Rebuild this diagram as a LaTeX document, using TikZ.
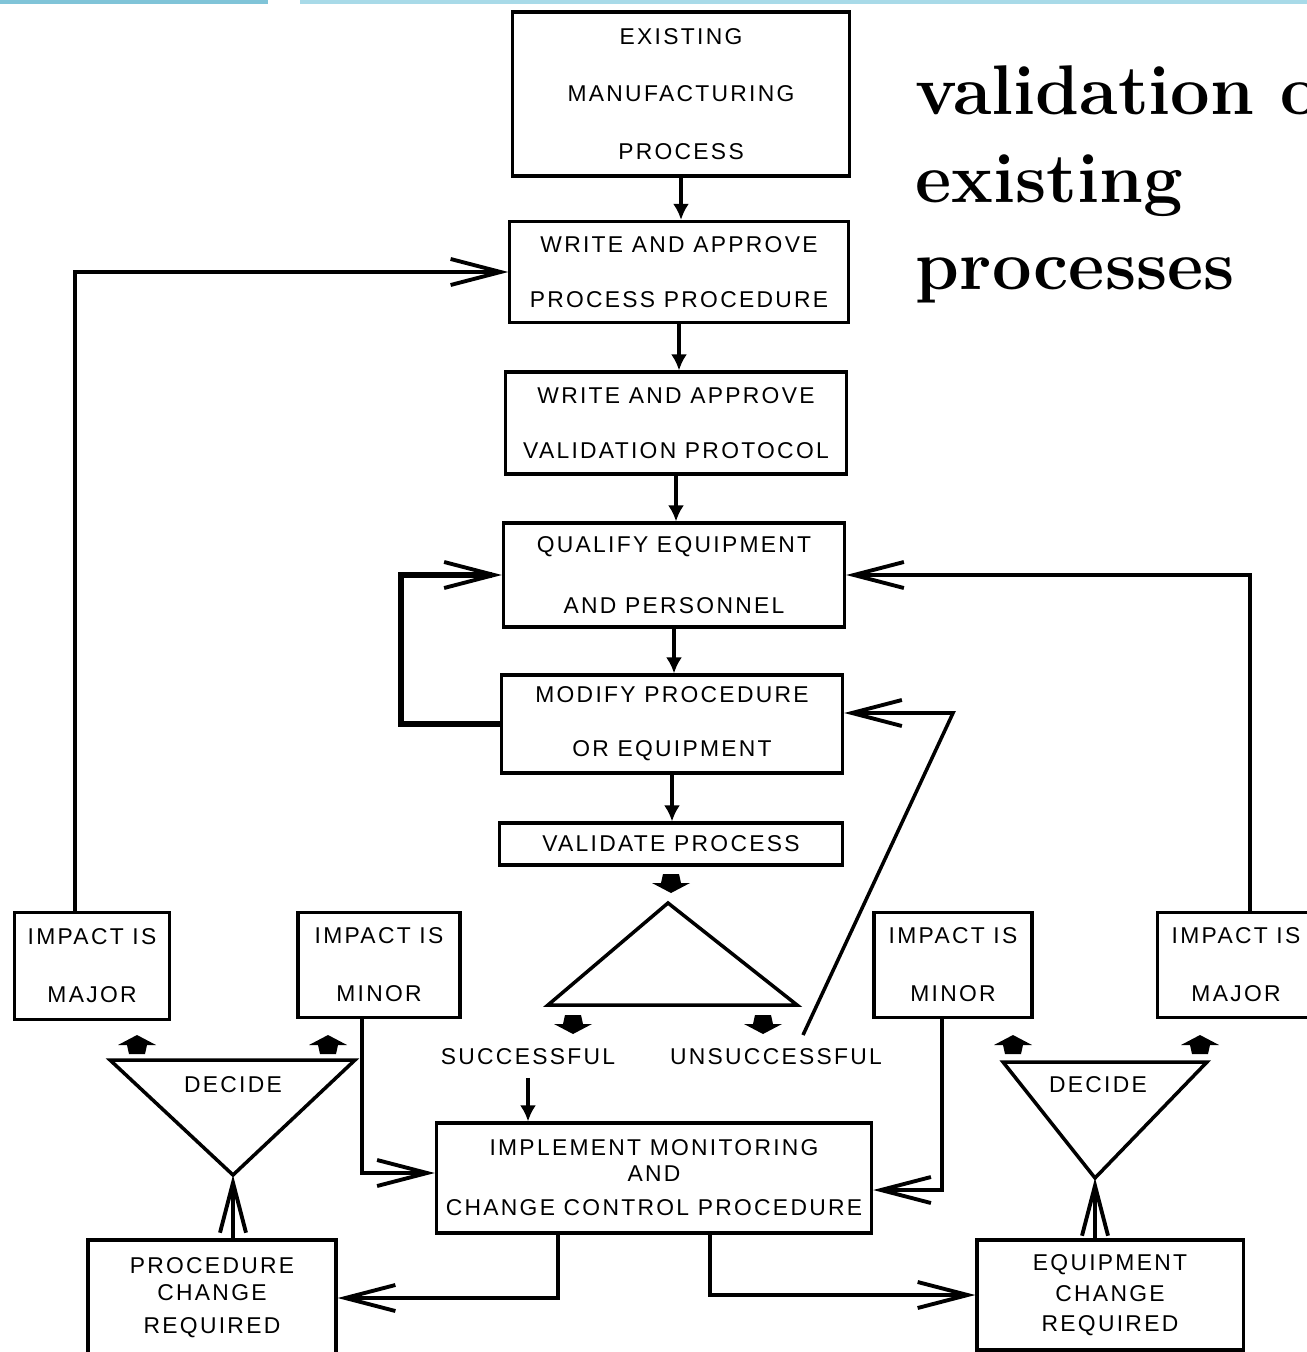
\documentclass[tikz,border=0pt]{standalone}
\usepackage{fontspec}
\usetikzlibrary{arrows.meta}
\newfontfamily\boxfont[LetterSpace=10]{Liberation Sans}
\definecolor{bandleft}{RGB}{128,196,216}
\definecolor{bandright}{RGB}{168,218,232}

\begin{document}
\begin{tikzpicture}[x=0.01cm, y=-0.01cm,
  box/.style={draw, line width=0.9pt, inner sep=0pt, align=center,
    font=\boxfont\fontsize{6.5}{7.8}\selectfont},
  lbl/.style={inner sep=0pt, font=\boxfont\fontsize{6.5}{7.8}\selectfont},
  flow/.style={line width=0.9pt, -{Latex[length=1.6mm,width=1.6mm]}},
  back/.style={line width=1pt, -{Straight Barb[length=5mm,width=2.6mm,line width=1.1pt]}},
  tri/.style={line width=1pt, line join=miter},
  mkup/.pic={\fill (0,-10) -- (19,0) -- (10,0) -- (8,9) -- (-8,9) -- (-10,0) -- (-19,0) -- cycle;},
  mkdown/.pic={\fill (0,10) -- (19,0) -- (10,0) -- (8,-9) -- (-8,-9) -- (-10,0) -- (-19,0) -- cycle;}]
\useasboundingbox (0,0) rectangle (1307,1352);
\clip (0,0) rectangle (1307,1352);
\fill[bandleft] (0,0) rectangle (268,4);
\fill[bandright] (300,0) rectangle (1307,4);

% main column
\node[box, minimum width=3.37cm, minimum height=1.64cm] (exist) at (681,94) {EXISTING\\[8.6pt]MANUFACTURING\\[8.6pt]PROCESS};
\node[box, minimum width=3.38cm, minimum height=1.01cm] (proc) at (679,272) {WRITE AND APPROVE\\[7.8pt]PROCESS PROCEDURE};
\node[box, minimum width=3.40cm, minimum height=1.02cm] (prot) at (676,423) {WRITE AND APPROVE\\[7.8pt]VALIDATION PROTOCOL};
\node[box, minimum width=3.41cm, minimum height=1.04cm] (qual) at (674,575) {QUALIFY EQUIPMENT\\[9.6pt]AND PERSONNEL};
\node[box, minimum width=3.41cm, minimum height=0.98cm] (modify) at (672,724) {MODIFY PROCEDURE\\[7.6pt]OR EQUIPMENT};
\node[box, minimum width=3.43cm, minimum height=0.42cm] (valid) at (671,844) {VALIDATE PROCESS};
\node[box, minimum width=4.35cm, minimum height=1.10cm] (monitor) at (654,1178) {IMPLEMENT MONITORING\\[-0.4pt]AND\\[1.9pt]CHANGE CONTROL PROCEDURE};

% impact boxes
\node[box, minimum width=1.55cm, minimum height=1.07cm] (majorL) at (92,966) {IMPACT IS\\[8.7pt]MAJOR};
\node[box, minimum width=1.62cm, minimum height=1.05cm] (minorL) at (379,965) {IMPACT IS\\[8.7pt]MINOR};
\node[box, minimum width=1.58cm, minimum height=1.05cm] (minorR) at (953,965) {IMPACT IS\\[8.7pt]MINOR};
\node[box, minimum width=1.57cm, minimum height=1.05cm] (majorR) at (1236,965) {IMPACT IS\\[8.7pt]MAJOR};
\node[box, minimum width=2.48cm, minimum height=1.16cm] (procchg) at (212,1298) {PROCEDURE\\[-0.1pt]CHANGE\\[1.6pt]REQUIRED};
\node[box, minimum width=2.66cm, minimum height=1.10cm] (equchg) at (1110,1295) {EQUIPMENT\\[1pt]CHANGE\\[0.7pt]REQUIRED};

% triangles
\coordinate (v-top) at (668,903);
\coordinate (v-left) at (548,1005);
\coordinate (v-right) at (797,1005);
\draw[tri] (v-top) -- (v-left) -- (v-right) -- cycle;
\coordinate (dl-left) at (110,1060);
\coordinate (dl-right) at (355,1060);
\coordinate (dl-apex) at (233,1175);
\draw[tri] (dl-left) -- (dl-right) -- (dl-apex) -- cycle;
\coordinate (dr-left) at (1003,1062);
\coordinate (dr-right) at (1207,1062);
\coordinate (dr-apex) at (1095,1178);
\draw[tri] (dr-left) -- (dr-right) -- (dr-apex) -- cycle;
\node[lbl] (dl-text) at (233,1085) {DECIDE};
\node[lbl] (dr-text) at (1098,1085) {DECIDE};
\node[lbl] (succ) at (528,1057) {SUCCESSFUL};
\node[lbl] (unsucc) at (776,1057) {UNSUCCESSFUL};

% small markers
\pic at (671,883) {mkdown};
\pic at (573,1024) {mkdown};
\pic at (763,1024) {mkdown};
\pic at (137,1045) {mkup};
\pic at (328,1045) {mkup};
\pic at (1013,1045) {mkup};
\pic at (1200,1045) {mkup};

% connectors
\draw[flow] (exist.south) -- (exist.south |- proc.north);
\draw[flow] (proc.south) -- (proc.south |- prot.north);
\draw[flow] (prot.south) -- (prot.south |- qual.north);
\draw[flow] (qual.south) -- (qual.south |- modify.north);
\draw[flow] (modify.south) -- (modify.south |- valid.north);
\draw[back, line width=1.6pt] (modify.west) -- ++(-99,0) |- (qual.west);
\draw[back] ([xshift=-0.17cm]majorL.north) |- (proc.west);
\draw[back] ([xshift=0.14cm]majorR.north) |- (qual.east);
\coordinate (u-foot) at (803,1035);
\coordinate (u-bend) at (953,713);
\draw[back] (u-foot) -- (u-bend) -- (u-bend -| modify.east);
\draw[flow] ([yshift=-0.12cm]succ.south) -- (succ.south |- monitor.north);
\draw[back] ([xshift=-0.17cm]minorL.south) |- ([yshift=0.05cm]monitor.west);
\draw[back] ([xshift=-0.11cm]minorR.south) |- ([yshift=-0.12cm]monitor.east);
\draw[back] ([xshift=-0.96cm]monitor.south) |- (procchg.east);
\draw[back] ([xshift=0.56cm]monitor.south) |- (equchg.west);
\draw[back] (dl-apex |- procchg.north) -- (dl-apex);
\draw[back] (dr-apex |- equchg.north) -- (dr-apex);

% title
\node[anchor=base west, align=left, inner sep=0pt, font=\bfseries\fontsize{20}{24.9}\selectfont] (title) at (915,290) {validation of\\existing\\processes};
\end{tikzpicture}
\end{document}
